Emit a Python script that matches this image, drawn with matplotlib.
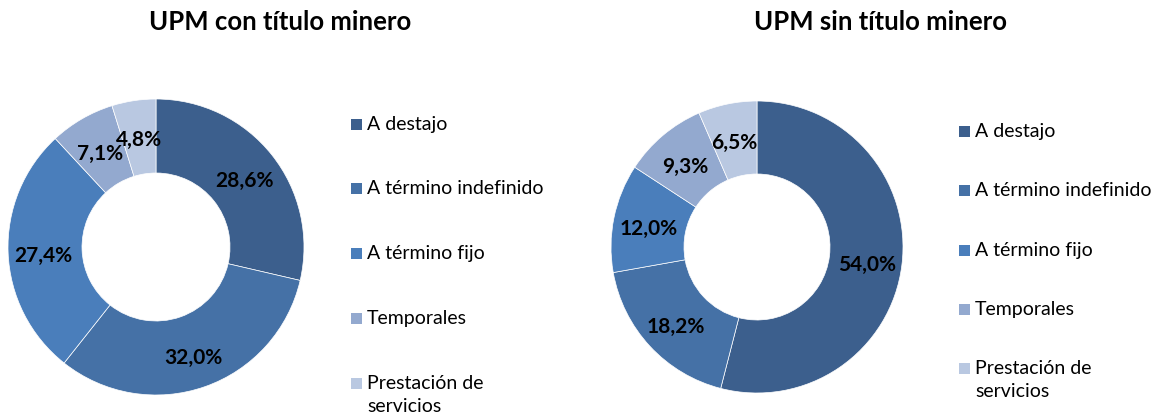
import matplotlib
matplotlib.use("Agg")
import matplotlib.pyplot as plt
from matplotlib.patches import Rectangle
import numpy as np

categories = ["A destajo", "A término indefinido", "A término fijo", "Temporales",
              "Prestación de\nservicios"]
con_titulo = [28.6, 32.0, 27.4, 7.1, 4.8]
sin_titulo = [54.0, 18.2, 12.0, 9.3, 6.5]
titles = ["UPM con título minero", "UPM sin título minero"]
colors = ["#3C5F8D", "#4571A6", "#4A7EBB", "#93A9CF", "#B9C8E1"]

W, H = 1159, 417
plt.rcParams['font.family'] = ['Lato', 'DejaVu Sans']
fig = plt.figure(figsize=(W / 100, H / 100), dpi=100)

def px_axes(cx, cy, r):
    return fig.add_axes([(cx - r) / W, (H - cy - r) / H, 2 * r / W, 2 * r / H])

def draw(values, cx, cy, r, title, tx, leg_x, leg_ys):
    ax = px_axes(cx, cy, r)
    ax.pie(values, colors=colors, startangle=90, counterclock=False,
           radius=1.0, wedgeprops=dict(width=0.5, edgecolor="white", linewidth=0.5))
    ax.set_xlim(-1, 1)
    ax.set_ylim(-1, 1)
    total = sum(values)
    start = 90.0
    for v in values:
        mid = np.deg2rad(start - v / total * 360 / 2)
        start -= v / total * 360
        ax.text(0.76 * np.cos(mid), 0.76 * np.sin(mid) - 0.03, f"{v:.1f}".replace(".", ",") + "%",
                ha="center", va="center", fontsize=15, fontweight="bold", color="black")
    fig.text(tx / W, 1 - 22 / H, title, ha="center", va="center", fontsize=18.5, fontweight="bold")
    for lab, col, y in zip(categories, colors, leg_ys):
        fig.patches.append(Rectangle(((leg_x) / W, (H - y - 5.5) / H), 11 / W, 11 / H,
                                     transform=fig.transFigure, facecolor=col, edgecolor="none"))
        fig.text((leg_x + 16) / W, 1 - (y - 8) / H, lab, ha="left", va="top",
                 fontsize=14, linespacing=1.45)

draw(con_titulo, 156, 247, 148, titles[0], 280, 351, [124, 188, 253, 318, 383])
draw(sin_titulo, 757, 247, 146, titles[1], 880, 959, [131, 190, 250, 309, 368])

fig.savefig("out.png", dpi=100)
